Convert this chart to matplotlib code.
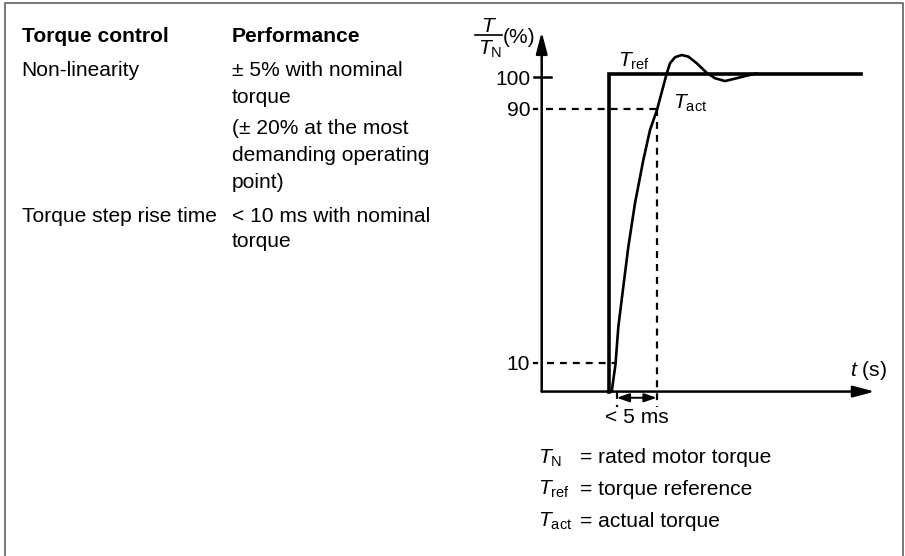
import matplotlib.pyplot as plt
from matplotlib.lines import Line2D

plt.rcParams['font.family'] = ['Liberation Sans', 'DejaVu Sans']
plt.rcParams['mathtext.fontset'] = 'custom'
plt.rcParams['mathtext.rm'] = 'Liberation Sans'
plt.rcParams['mathtext.it'] = 'Liberation Sans:italic'
plt.rcParams['mathtext.bf'] = 'Liberation Sans:bold'
plt.rcParams['lines.scale_dashes'] = False

# step response (time in ms, torque in % of T_N)
ref_t = [8.35, 8.35, 39.9]
ref_pct = [1, 101, 101]
act_t = [8.75, 9.23, 9.58, 10.2, 10.83, 11.66, 12.7, 13.54, 14.41, 15.63, 16.04,
         16.66, 17.5, 18.33, 19.38, 20.63, 21.66, 22.91, 24.38, 25.63, 26.88]
act_pct = [1, 9.7, 21.4, 34.0, 46.6, 60.3, 73.9, 83.4, 89.7, 101.2, 104.4,
           106.3, 107.0, 106.5, 104.4, 101.4, 99.7, 98.8, 99.7, 100.5, 101.2]
tick_levels = [10, 90, 100]
t10, t90 = 9.375, 14.375
axis_pct = 1
t_end = 41.66
pct_end = 114.3

# table on the left
headers = ['Torque control', 'Performance']
row_names = ['Non-linearity', 'Torque step rise time']
perf_lines = [['± 5% with nominal', 'torque'],
              ['(± 20% at the most', 'demanding operating', 'point)'],
              ['< 10 ms with nominal', 'torque']]
legend_syms = [r'$T_\mathrm{N}$', r'$T_\mathrm{ref}$', r'$T_\mathrm{act}$']
legend_text = ['= rated motor torque', '= torque reference', '= actual torque']

W, H = 905, 556
X0, PX_MS = 541.7, 8.0
Y0, PX_PCT = 394.75, 3.175
FS = 15.1

fig = plt.figure(figsize=(W / 100, H / 100), dpi=100)
ax = fig.add_axes([0, 0, 1, 1])
ax.set_xlim(-X0 / PX_MS, (W - X0) / PX_MS)
ax.set_ylim((Y0 - H) / PX_PCT, Y0 / PX_PCT)
ax.axis('off')


def ftxt(x, y, s, **kw):
    kw.setdefault('va', 'baseline')
    fig.text(x / W, 1 - y / H, s, fontsize=FS, **kw)


# frame (left, top, right)
fc = '#606060'
fig.add_artist(Line2D([4.5 / W, 4.5 / W, 902.7 / W, 902.7 / W],
                      [0, 1 - 3 / H, 1 - 3 / H, 0], color=fc, lw=1.2))

ftxt(21.7, 42, headers[0], fontweight='bold')
ftxt(231.7, 42, headers[1], fontweight='bold')
ftxt(21.7, 76, row_names[0])
ftxt(21.7, 222, row_names[1])
for y, s in zip([76, 102.7], perf_lines[0]):
    ftxt(231.7, y, s)
for y, s in zip([134, 161, 188], perf_lines[1]):
    ftxt(231.7, y, s)
for y, s in zip([222, 247], perf_lines[2]):
    ftxt(231.7, y, s)

# axes with arrows
arr = dict(arrowstyle='-|>,head_length=1.3,head_width=0.34', mutation_scale=10,
           lw=1.8, color='k', shrinkA=0, shrinkB=0)
ax.annotate('', xy=(0, pct_end), xytext=(0, axis_pct), arrowprops=arr)
ax.annotate('', xy=(t_end, axis_pct), xytext=(0, axis_pct), arrowprops=arr)

# ticks and labels
dash = dict(color='k', lw=1.6, linestyle=(0, (5, 4.3)))
ax.plot([-0.96, 1.13], [100, 100], color='k', lw=1.8)
for lv in tick_levels:
    if lv != 100:
        ax.plot([-0.96, -0.55], [lv, lv], color='k', lw=1.6)
    ax.text(-1.46, lv - 2.36, str(lv), ha='right', va='baseline', fontsize=FS)
ax.plot([0.5, t90], [90, 90], **dash)
ax.plot([t90, t90], [90, -3.8], **dash)
ax.plot([0.6, 9.3], [10, 10], **dash)
ax.plot([t10, t10], [axis_pct, -3.8], **dash)

ax.annotate('', xy=(t90, -0.95), xytext=(t10, -0.95),
            arrowprops=dict(arrowstyle='<|-|>,head_length=0.75,head_width=0.26',
                            mutation_scale=10, lw=1.4, color='k', shrinkA=0, shrinkB=0))
ax.text((t10 + t90) / 2, -8.9, '< 5 ms', ha='center', va='baseline', fontsize=FS)

# curves
ax.plot(ref_t, ref_pct, color='k', lw=2.6, solid_joinstyle='miter')
ax.plot(act_t, act_pct, color='k', lw=1.9, solid_joinstyle='round')

ax.text(9.54, 103.4, r'$T_\mathrm{ref}$', fontsize=FS, va='baseline')
ax.text(16.45, 90, r'$T_\mathrm{act}$', fontsize=FS, va='baseline')
ax.text(38.54, 5.8, r'$t$ (s)', fontsize=FS, va='baseline')

# y label: T / T_N (%)
ftxt(489, 31.7, r'$T$', ha='center')
fig.add_artist(Line2D([475 / W, 501.7 / W], [1 - 35 / H, 1 - 35 / H], color='k', lw=1.2))
ftxt(478.5, 55, r'$T_\mathrm{N}$')
ftxt(503, 43.3, '(%)')

# legend
for y, sym, s in zip([463.3, 495, 526.7], legend_syms, legend_text):
    ftxt(538.3, y, sym)
    ftxt(580, y, s)

fig.savefig('out.png', dpi=100)
